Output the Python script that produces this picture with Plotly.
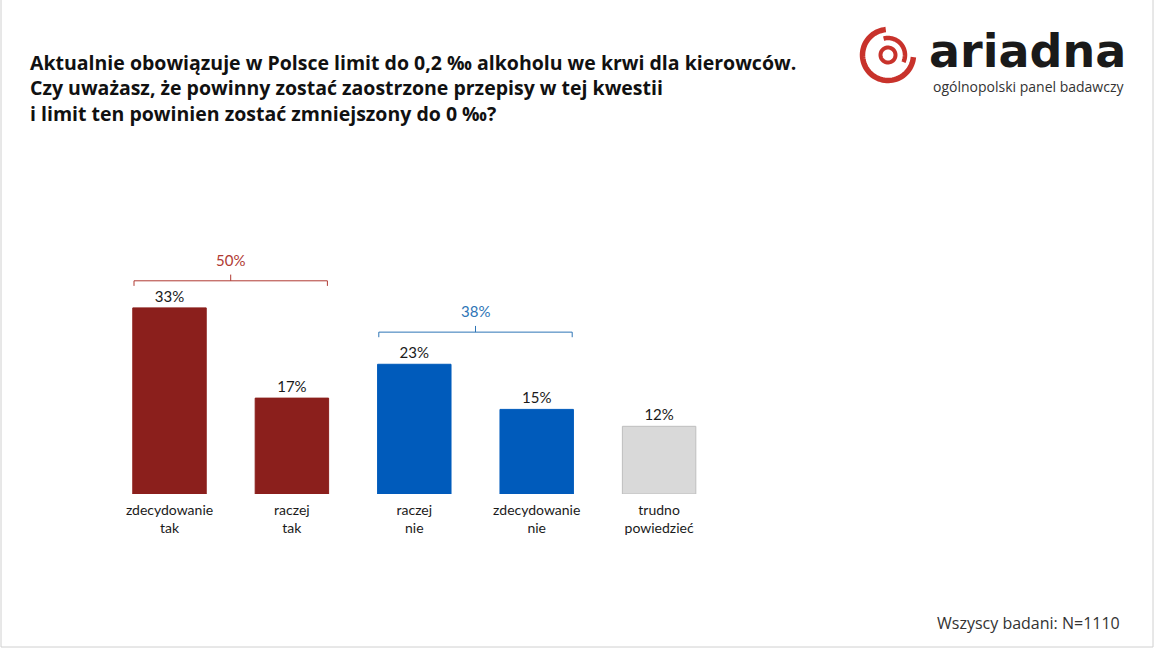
import numpy as np
import plotly.graph_objects as go

# ---------------- data ----------------
categories = ["zdecydowanie<br>tak", "raczej<br>tak", "raczej<br>nie", "zdecydowanie<br>nie", "trudno<br>powiedzieć"]
values = [33, 17, 23, 15, 12]
bar_colors = ["#8B1F1C", "#8B1F1C", "#005BBB", "#005BBB", "#D9D9D9"]
bar_borders = ["#8B1F1C", "#8B1F1C", "#005BBB", "#005BBB", "#BFBFBF"]
group_members = [[0, 1], [2, 3]]
group_colors = ["#B03A33", "#2E75B6"]
group_offsets = [4.8, 5.7]

title_text = ("Aktualnie obowiązuje w Polsce limit do 0,2 ‰ alkoholu we krwi dla kierowców.<br>"
              "Czy uważasz, że powinny zostać zaostrzone przepisy w tej kwestii<br>"
              "i limit ten powinien zostać zmniejszony do 0 ‰?")
footnote = "Wszyscy badani: N=1110"

# ---------------- layout geometry ----------------
W, H = 1155, 649
ML, MR, MT, MB = 0, 0, 156, 155
PX_PER_UNIT_X = 122.4
PX_PER_UNIT_Y = 5.64
X0_PX = 169.5
plot_h = H - MT - MB

def px(x):
    return x / (W - ML - MR)

def py(y):
    return (H - MB - y) / plot_h

FONT = "Lato, 'Open Sans', sans-serif"
FONT2 = "'Open Sans', sans-serif"

xs = list(range(len(values)))
fig = go.Figure()
fig.add_trace(go.Bar(
    x=xs, y=values, width=0.6,
    marker=dict(color=bar_colors, line=dict(color=bar_borders, width=1)),
    text=[f"{v}%" for v in values], textposition="outside",
    textfont=dict(size=15, color="#1a1a1a", family=FONT),
    cliponaxis=False, hoverinfo="skip",
))

# group brackets
shapes = []
annotations = []
for members, col, off in zip(group_members, group_colors, group_offsets):
    total = sum(values[i] for i in members)
    top = max(values[i] for i in members) + off
    xa = min(members) - 0.29
    xb = max(members) + 0.29
    xm = (xa + xb) / 2
    tick = 0.9
    shapes.append(dict(type="path", xref="x", yref="y",
                       path=f"M {xa},{top - tick} L {xa},{top} L {xb},{top} L {xb},{top - tick}",
                       line=dict(color=col, width=1)))
    shapes.append(dict(type="line", xref="x", yref="y", x0=xm, x1=xm, y0=top, y1=top + 1.1,
                       line=dict(color=col, width=1)))
    annotations.append(dict(x=xm, y=top + 1.1, xref="x", yref="y", text=f"{total}%",
                            showarrow=False, yanchor="bottom", yshift=4,
                            font=dict(size=15, color=col, family=FONT)))

# title
annotations.append(dict(x=px(28), y=py(47), xref="paper", yref="paper", text=title_text,
                        showarrow=False, xanchor="left", yanchor="top", align="left",
                        font=dict(size=19.5, color="#111111", family=FONT2, weight="bold")))
# logo text
annotations.append(dict(x=px(1128), y=py(51), xref="paper", yref="paper", text="ariadna",
                        showarrow=False, xanchor="right", yanchor="middle",
                        font=dict(size=46, color="#1a1a1a", family="'DejaVu Sans', sans-serif", weight="bold")))
annotations.append(dict(x=px(1126), y=py(86), xref="paper", yref="paper",
                        text="ogólnopolski panel badawczy",
                        showarrow=False, xanchor="right", yanchor="middle",
                        font=dict(size=14, color="#333333", family=FONT2)))
# footnote
annotations.append(dict(x=px(1122), y=py(623), xref="paper", yref="paper", text=footnote,
                        showarrow=False, xanchor="right", yanchor="middle",
                        font=dict(size=16, color="#333333", family=FONT2)))

# logo icon (decorative arcs)
LOGO_RED = "#C8322B"
cx, cy = 888, 55

def arc_path(r, a0, a1, n=60):
    t = np.radians(np.linspace(a0, a1, n))
    pts = [(px(cx + r * np.cos(a)), py(cy - r * np.sin(a))) for a in t]
    return "M " + " L ".join(f"{x:.5f},{y:.5f}" for x, y in pts)

shapes.append(dict(type="path", xref="paper", yref="paper", path=arc_path(25.5, 95, 355),
                   line=dict(color=LOGO_RED, width=5.5)))
shapes.append(dict(type="path", xref="paper", yref="paper", path=arc_path(17, -25, 105),
                   line=dict(color=LOGO_RED, width=4.5)))
shapes.append(dict(type="path", xref="paper", yref="paper", path=arc_path(7.5, 0, 360),
                   line=dict(color=LOGO_RED, width=4)))

# frame border
shapes.append(dict(type="rect", xref="paper", yref="paper",
                   x0=px(1), x1=px(1153), y0=py(647), y1=py(-5),
                   line=dict(color="#D0D0D0", width=1)))

x_lo = (ML - X0_PX) / PX_PER_UNIT_X
x_hi = (W - MR - X0_PX) / PX_PER_UNIT_X

fig.update_layout(
    width=W, height=H,
    margin=dict(l=ML, r=MR, t=MT, b=MB),
    paper_bgcolor="white", plot_bgcolor="white",
    showlegend=False,
    shapes=shapes, annotations=annotations,
    xaxis=dict(range=[x_lo, x_hi], tickvals=xs, ticktext=categories,
               showgrid=False, zeroline=False, showline=False, ticks="",
               ticklabelstandoff=6, fixedrange=True,
               tickfont=dict(size=14, color="#1a1a1a", family=FONT)),
    yaxis=dict(range=[0, plot_h / PX_PER_UNIT_Y], visible=False, showgrid=False,
               zeroline=False, fixedrange=True),
)

fig.write_html("out.html", config={"displayModeBar": False},
               post_script="document.body.style.margin='0';document.body.style.overflow='hidden';")
